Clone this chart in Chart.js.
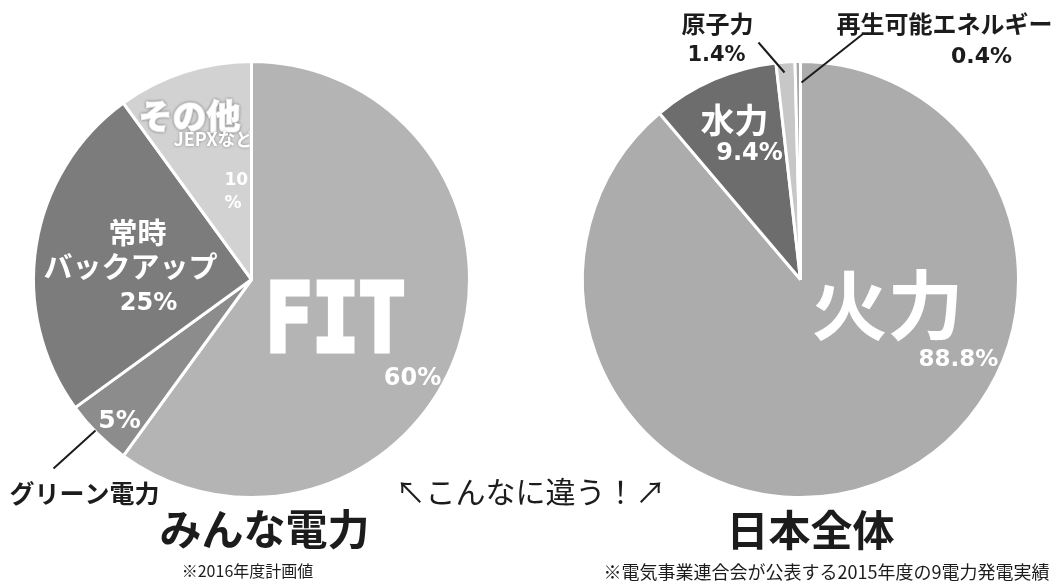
<!DOCTYPE html>
<html lang="ja">
<head>
<meta charset="utf-8">
<script src="https://cdn.jsdelivr.net/npm/chart.js@4.4.1/dist/chart.umd.min.js"></script>
<style>
  html, body { margin: 0; padding: 0; background: #fff; }
  #wrap { position: relative; width: 1059px; height: 583px; overflow: hidden; }
  #wrap canvas { position: absolute; left: 0; top: 0; }
</style>
</head>
<body>
<div id="wrap">
  <canvas id="leftPie" width="1059" height="583"></canvas>
  <canvas id="rightPie" width="1059" height="583"></canvas>
</div>
<script>
// みんな電力 (2016年度計画値)
const minnaLabels = ['FIT', 'グリーン電力', '常時バックアップ', 'その他'];
const minnaValues = [60, 5, 25, 10];
const minnaColors = ['#b4b4b4', '#8c8c8c', '#7c7c7c', '#d2d2d2'];

// 日本全体 (2015年度 9電力発電実績)
const japanLabels = ['火力', '水力', '原子力', '再生可能エネルギー'];
const japanValues = [88.8, 9.4, 1.4, 0.4];
const japanColors = ['#acacac', '#6d6d6d', '#c7c7c7', '#a8a8a8'];

const SANS = '"DejaVu Sans", "Noto Sans CJK JP", sans-serif';
const MONO = '"DejaVu Sans Mono", "DejaVu Sans", sans-serif';
const JP = '"Noto Sans CJK JP", sans-serif';
const INK = '#1c1c1c';

const pct = v => v + '%';

// draws texts and leader lines relative to the pie centre
const annotate = {
    id: 'annotate',
    afterDatasetsDraw(chart, args, opts) {
        const arc = chart.getDatasetMeta(0).data[0];
        const cx = arc.x, cy = arc.y;
        const ctx = chart.ctx;

        (opts.lines || []).forEach(l => {
            ctx.save();
            ctx.beginPath();
            ctx.moveTo(cx + l[0], cy + l[1]);
            ctx.lineTo(cx + l[2], cy + l[3]);
            ctx.strokeStyle = INK;
            ctx.lineWidth = 2;
            ctx.stroke();
            ctx.restore();
        });

        (opts.texts || []).forEach(t => {
            ctx.save();
            if (t.clip) {
                ctx.beginPath();
                ctx.rect(0, 0, cx - 2, chart.height);
                ctx.clip();
            }
            ctx.font = t.font;
            ctx.fillStyle = t.color || '#fff';
            ctx.textAlign = t.align || 'center';
            ctx.textBaseline = 'middle';
            if (t.shadow) {
                ctx.shadowColor = 'rgba(0,0,0,0.35)';
                ctx.shadowBlur = 3;
            }
            const x = cx + t.dx, y = cy + t.dy;
            if (t.bold) {
                // thicken glyphs
                ctx.strokeStyle = ctx.fillStyle;
                ctx.lineWidth = t.bold;
                ctx.lineJoin = 'miter';
                if (t.w) ctx.strokeText(t.text, x, y, t.w);
                else ctx.strokeText(t.text, x, y);
            }
            if (t.w) ctx.fillText(t.text, x, y, t.w);
            else ctx.fillText(t.text, x, y);
            ctx.restore();
        });
    }
};

function makePie(id, labels, values, colors, padding, notes) {
    return new Chart(document.getElementById(id), {
        type: 'pie',
        data: {
            labels: labels,
            datasets: [{
                data: values,
                backgroundColor: colors,
                borderColor: '#ffffff',
                borderWidth: 3
            }]
        },
        options: {
            responsive: false,
            animation: false,
            events: [],
            layout: { padding: padding },
            plugins: {
                legend: { display: false },
                tooltip: { enabled: false },
                annotate: notes
            }
        },
        plugins: [annotate]
    });
}

makePie('leftPie', minnaLabels, minnaValues, minnaColors,
    { left: 32, right: 588, top: 60, bottom: 84 },
    {
        lines: [[-198, 189, -156, 151]],
        texts: [
            { text: minnaLabels[0], dx: 84, dy: 47, font: `bold 94px ${MONO}`, w: 140, bold: 5 },
            { text: pct(minnaValues[0]), dx: 161, dy: 99, font: `bold 24px ${SANS}` },
            { text: minnaLabels[3], dx: -62, dy: -163, font: `900 34px ${JP}`, shadow: true, bold: 1.5 },
            { text: 'JEPXなど', dx: -78, dy: -140, align: 'left', font: `bold 18px ${JP}`, clip: true, shadow: true },
            { text: String(minnaValues[3]), dx: -27, dy: -99, align: 'left', font: `bold 17px ${SANS}`, clip: true },
            { text: '%', dx: -27, dy: -76, align: 'left', font: `bold 17px ${SANS}`, clip: true },
            { text: '常時', dx: -114, dy: -47, font: `bold 29px ${JP}` },
            { text: 'バックアップ', dx: -121, dy: -13, font: `bold 29px ${JP}` },
            { text: pct(minnaValues[2]), dx: -103, dy: 24, font: `bold 24px ${SANS}` },
            { text: pct(minnaValues[1]), dx: -132, dy: 142, font: `bold 25px ${SANS}` },
            { text: minnaLabels[1], dx: -167, dy: 214, font: `bold 25px ${JP}`, color: INK },
            { text: 'みんな電力', dx: 13, dy: 250, font: `bold 42px ${JP}`, color: INK },
            { text: '※2016年度計画値', dx: -4, dy: 291, font: `16px ${JP}`, color: INK },
            { text: '↖こんなに違う！↗', dx: 279, dy: 212, font: `30px ${JP}`, color: INK }
        ]
    });

makePie('rightPie', japanLabels, japanValues, japanColors,
    { left: 581, right: 39, top: 60, bottom: 84 },
    {
        lines: [[-42, -237, -16, -207], [63, -246, 1, -197]],
        texts: [
            { text: japanLabels[0], dx: 87, dy: 26, font: `bold 76px ${JP}` },
            { text: pct(japanValues[0]), dx: 158, dy: 81, font: `bold 23px ${SANS}` },
            { text: japanLabels[1], dx: -66, dy: -159, font: `bold 34px ${JP}` },
            { text: pct(japanValues[1]), dx: -51, dy: -126, font: `bold 24px ${SANS}` },
            { text: japanLabels[2], dx: -83, dy: -256, font: `bold 24px ${JP}`, color: INK },
            { text: pct(japanValues[2]), dx: -84, dy: -224, font: `bold 21px ${SANS}`, color: INK },
            { text: japanLabels[3], dx: 144, dy: -256, font: `bold 24px ${JP}`, color: INK },
            { text: pct(japanValues[3]), dx: 181, dy: -222, font: `bold 22px ${SANS}`, color: INK },
            { text: '日本全体', dx: 10, dy: 251, font: `bold 42px ${JP}`, color: INK },
            { text: '※電気事業連合会が公表する2015年度の9電力発電実績', dx: 26, dy: 293, font: `18px ${JP}`, color: INK }
        ]
    });
</script>
</body>
</html>
